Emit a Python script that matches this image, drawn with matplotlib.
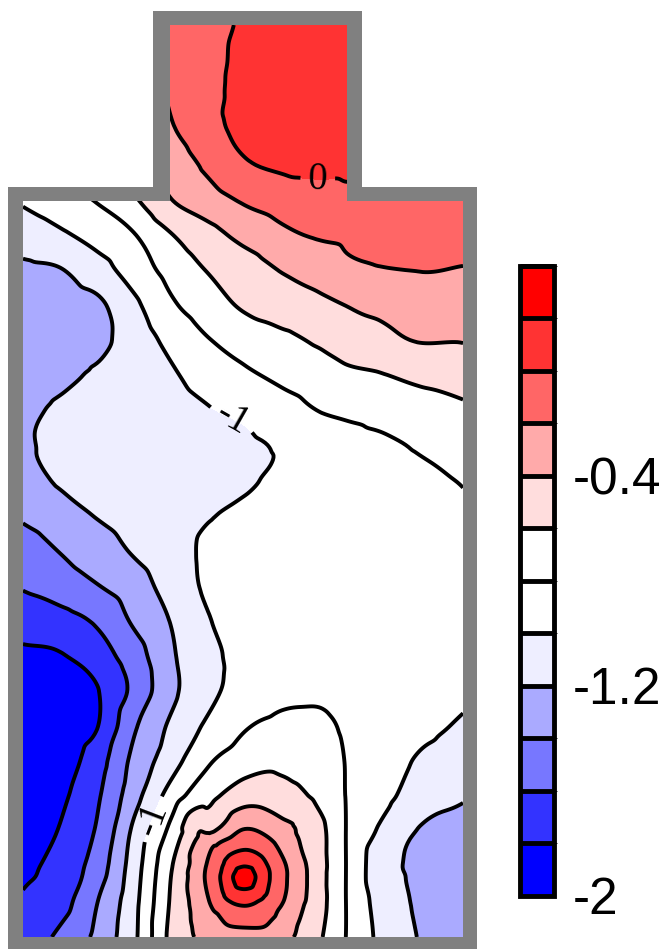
import numpy as np
import matplotlib.pyplot as plt
import matplotlib.tri as mtri
from matplotlib.colors import ListedColormap, BoundaryNorm
from matplotlib.cm import ScalarMappable
from matplotlib.patches import Polygon

plt.rcParams['axes.unicode_minus'] = False

# field samples on a coarse grid (node positions in pixels, y downwards)
x_nodes = [23, 60, 97, 134, 171, 208, 245, 282, 319, 347, 380, 420, 463]
y_nodes = [25, 60, 95, 130, 165, 201, 235, 270, 305, 340, 375, 410, 445, 480,
           515, 550, 585, 620, 655, 690, 725, 760, 795, 830, 865, 900, 937]
z_grid = [
    [-0.42, -0.35, -0.27, -0.19, -0.12, -0.05, 0.02, 0.08, 0.11, 0.13, 0.14, 0.14, 0.14],
    [-0.50, -0.42, -0.33, -0.23, -0.14, -0.05, 0.04, 0.09, 0.12, 0.13, 0.13, 0.13, 0.13],
    [-0.60, -0.50, -0.41, -0.29, -0.18, -0.05, 0.05, 0.09, 0.11, 0.12, 0.12, 0.12, 0.12],
    [-0.72, -0.62, -0.50, -0.37, -0.22, -0.06, 0.04, 0.08, 0.10, 0.10, 0.09, 0.08, 0.07],
    [-0.85, -0.75, -0.62, -0.48, -0.33, -0.16, -0.02, 0.03, 0.04, 0.03, 0.01, -0.02, -0.03],
    [-0.98, -0.90, -0.79, -0.63, -0.41, -0.29, -0.18, -0.12, -0.07, -0.04, -0.06, -0.08, -0.08],
    [-1.10, -1.03, -0.93, -0.81, -0.61, -0.47, -0.34, -0.24, -0.18, -0.16, -0.15, -0.13, -0.13],
    [-1.24, -1.21, -1.08, -0.91, -0.73, -0.59, -0.50, -0.39, -0.33, -0.24, -0.21, -0.195, -0.21],
    [-1.28, -1.30, -1.24, -1.04, -0.83, -0.69, -0.57, -0.49, -0.44, -0.395, -0.36, -0.33, -0.30],
    [-1.30, -1.33, -1.26, -1.10, -0.95, -0.81, -0.72, -0.65, -0.57, -0.50, -0.45, -0.39, -0.39],
    [-1.27, -1.24, -1.17, -1.09, -1.02, -0.93, -0.83, -0.76, -0.70, -0.64, -0.61, -0.56, -0.52],
    [-1.23, -1.18, -1.13, -1.09, -1.05, -1.01, -0.96, -0.87, -0.795, -0.76, -0.72, -0.67, -0.63],
    [-1.22, -1.17, -1.13, -1.10, -1.08, -1.06, -1.03, -0.98, -0.92, -0.88, -0.84, -0.78, -0.70],
    [-1.27, -1.18, -1.13, -1.10, -1.08, -1.05, -1.02, -0.97, -0.93, -0.90, -0.87, -0.83, -0.79],
    [-1.37, -1.28, -1.19, -1.13, -1.07, -1.01, -0.97, -0.94, -0.92, -0.90, -0.88, -0.85, -0.82],
    [-1.50, -1.39, -1.29, -1.18, -1.08, -0.97, -0.93, -0.91, -0.90, -0.89, -0.88, -0.87, -0.85],
    [-1.58, -1.50, -1.405, -1.29, -1.12, -0.97, -0.93, -0.91, -0.90, -0.90, -0.89, -0.89, -0.88],
    [-1.72, -1.67, -1.57, -1.37, -1.19, -1.01, -0.95, -0.92, -0.91, -0.91, -0.90, -0.90, -0.91],
    [-1.83, -1.81, -1.69, -1.49, -1.23, -1.05, -0.95, -0.92, -0.91, -0.90, -0.91, -0.91, -0.94],
    [-1.90, -1.88, -1.81, -1.55, -1.25, -1.05, -0.93, -0.85, -0.84, -0.88, -0.91, -0.93, -0.97],
    [-1.93, -1.92, -1.81, -1.43, -1.17, -0.97, -0.82, -0.76, -0.76, -0.83, -0.89, -0.95, -1.02],
    [-1.95, -1.90, -1.69, -1.35, -1.09, -0.83, -0.70, -0.65, -0.70, -0.81, -0.91, -1.02, -1.10],
    [-1.93, -1.84, -1.63, -1.28, -0.92, -0.67, -0.49, -0.53, -0.65, -0.81, -0.93, -1.09, -1.18],
    [-1.90, -1.79, -1.58, -1.16, -0.75, -0.44, -0.19, -0.33, -0.54, -0.81, -1.02, -1.21, -1.26],
    [-1.85, -1.73, -1.51, -1.10, -0.62, -0.18, 0.18, -0.16, -0.52, -0.81, -1.11, -1.24, -1.28],
    [-1.78, -1.68, -1.41, -1.06, -0.58, -0.21, 0.06, -0.18, -0.52, -0.81, -1.07, -1.23, -1.30],
    [-1.72, -1.56, -1.35, -1.04, -0.55, -0.34, -0.28, -0.33, -0.57, -0.81, -1.04, -1.21, -1.29],
]

# denser samples around the hot spot near the bottom wall
spot_x = [244,
          227, 262, 244, 244, 232, 257, 231, 258,
          213, 278, 244, 244, 220, 269, 219, 270,
          196, 297, 244, 207, 283, 207, 283,
          180, 317, 193, 304]
spot_y = [877,
          877, 877, 859, 896, 865, 864, 891, 891,
          877, 877, 840, 916, 852, 851, 904, 904,
          877, 877, 819, 840, 838, 914, 914,
          877, 877, 822, 815]
spot_z = [0.33,
          0.1, 0.1, 0.1, 0.1, 0.1, 0.1, 0.1, 0.1,
          -0.1, -0.1, -0.1, -0.1, -0.1, -0.1, -0.1, -0.1,
          -0.3, -0.3, -0.3, -0.3, -0.3, -0.28, -0.26,
          -0.5, -0.5, -0.5, -0.48]

levels = [-2.0, -1.8, -1.6, -1.4, -1.2, -1.0, -0.8, -0.6, -0.4, -0.2, 0.0, 0.2, 0.4]
bin_colors = ['#0000ff', '#3333ff', '#7777ff', '#aaaaff', '#eeeeff', '#ffffff',
              '#ffffff', '#ffdddd', '#ffaaaa', '#ff6666', '#ff3333', '#ff0000']
tick_values = [-2.0, -1.2, -0.4]
tick_labels = ['-2', '-1.2', '-0.4']
label_levels = [-1.0, 0.0]
label_text = {-1.0: '-1', 0.0: '0'}
label_spots = [(318, 177), (233, 417), (155, 820)]

# vessel wall: outer and inner outline
outer_wall = [(8, 949), (8, 187), (153, 187), (153, 11), (362, 11),
              (362, 187), (477, 187), (477, 949)]
inner_wall = [(23, 937), (23, 201), (170, 201), (170, 25), (347, 25),
              (347, 201), (463, 201), (463, 937)]

gx, gy = np.meshgrid(x_nodes, y_nodes)
px = np.concatenate([gx.ravel(), spot_x]).astype(float)
py = np.concatenate([gy.ravel(), spot_y]).astype(float)
pz = np.concatenate([np.array(z_grid).ravel(), spot_z])

tri = mtri.Triangulation(px, py)
interp = mtri.CubicTriInterpolator(tri, pz, kind='geom')
refiner = mtri.UniformTriRefiner(tri)
tri_f, z_f = refiner.refine_field(pz, triinterpolator=interp, subdiv=4)
z_f = np.clip(z_f, -1.99, 0.39)

fig = plt.figure(figsize=(6.69, 9.49), dpi=100)
ax = fig.add_axes([0, 0, 1, 1])
ax.set_xlim(0, 669)
ax.set_ylim(949, 0)
ax.axis('off')

ax.add_patch(Polygon(outer_wall, closed=True, facecolor='#808080',
                     edgecolor='none', zorder=1))
inner = Polygon(inner_wall, closed=True, facecolor='white', edgecolor='none', zorder=2)
ax.add_patch(inner)

cmap = ListedColormap(bin_colors)
norm = BoundaryNorm(levels, cmap.N)

cf = ax.tricontourf(tri_f, z_f, levels=levels, cmap=cmap, norm=norm, zorder=3)
cf.set_clip_path(inner)

plain_levels = [v for v in levels[1:-1] if v not in label_levels]
cl = ax.tricontour(tri_f, z_f, levels=plain_levels, colors='black',
                   linewidths=2.8, linestyles='solid', zorder=4)
cl.set_clip_path(inner)

# labelled lines drawn separately so the labels cut only these
cl_lab = ax.tricontour(tri_f, z_f, levels=label_levels, colors='black',
                       linewidths=2.8, linestyles='solid', zorder=4)
cl_lab.set_clip_path(inner)
texts = ax.clabel(cl_lab, manual=label_spots, inline=True,
                  fmt=label_text, fontsize=28, colors='black')
for t in texts:
    t.set_fontfamily('Liberation Serif')

# colour key
cax = fig.add_axes([519.5 / 669, 53.5 / 949, 35 / 669, 630 / 949])
cb = fig.colorbar(ScalarMappable(norm=norm, cmap=cmap), cax=cax,
                  ticks=tick_values, drawedges=True)
cb.set_ticklabels(tick_labels)
cb.outline.set_linewidth(3.5)
cb.dividers.set_color('black')
cb.dividers.set_linewidth(3.5)
cax.tick_params(length=0, pad=13, labelsize=37)
for t in cax.get_yticklabels():
    t.set_fontfamily('Liberation Sans')

fig.savefig('out.png', dpi=100)
